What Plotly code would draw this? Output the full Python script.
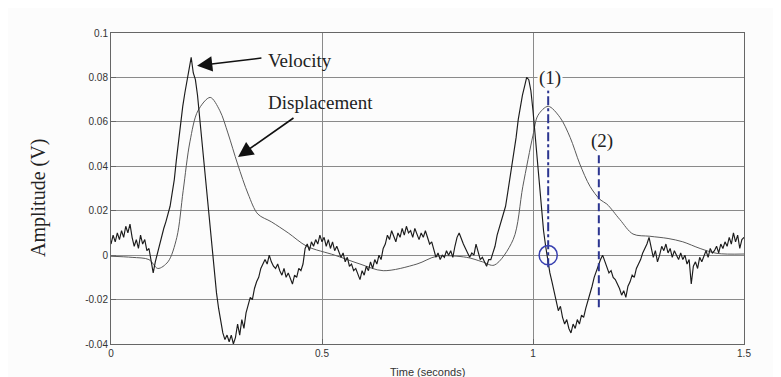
import plotly.graph_objects as go

# ---------------- data ----------------
# velocity sampled every 5 ms from 0 to 1.5 s
vel_step = 0.005
velocity = [
    0.005, 0.009, 0.006, 0.010, 0.007, 0.011, 0.008, 0.013, 0.010, 0.014,
    0.008, 0.004, 0.007, 0.003, 0.009, 0.005, 0.007, 0.002, 0.003, -0.002,
    -0.008, -0.003, 0.001, 0.005, 0.008, 0.012, 0.015, 0.018, 0.022, 0.028,
    0.034, 0.043, 0.052, 0.060, 0.067, 0.073, 0.079, 0.083, 0.089, 0.082,
    0.079, 0.072, 0.062, 0.052, 0.042, 0.031, 0.020, 0.010, 0.000, -0.008,
    -0.017, -0.024, -0.030, -0.035, -0.038, -0.036, -0.039, -0.036, -0.040, -0.037,
    -0.031, -0.036, -0.029, -0.033, -0.026, -0.022, -0.019, -0.020, -0.015, -0.012,
    -0.010, -0.006, -0.004, -0.002, -0.004, 0.000, -0.003, -0.005, -0.006, -0.004,
    -0.007, -0.009, -0.006, -0.010, -0.008, -0.011, -0.013, -0.009, -0.010, -0.006,
    -0.007, -0.004, 0.003, 0.005, 0.002, 0.006, 0.004, 0.007, 0.005, 0.009,
    0.006, 0.008, 0.004, 0.007, 0.003, 0.006, 0.002, 0.004, 0.001, -0.001,
    0.001, -0.003, -0.001, -0.005, -0.004, -0.007, -0.006, -0.009, -0.011, -0.007,
    -0.009, -0.005, -0.007, -0.003, -0.006, -0.002, -0.004, 0.000, -0.002, 0.003,
    0.005, 0.009, 0.007, 0.011, 0.008, 0.006, 0.010, 0.008, 0.012, 0.009,
    0.013, 0.010, 0.011, 0.008, 0.012, 0.009, 0.007, 0.010, 0.008, 0.011,
    0.008, 0.005, 0.006, 0.002, -0.001, 0.001, -0.002, 0.000, -0.001, 0.002,
    0.000, 0.002, -0.001, 0.004, 0.008, 0.010, 0.007, 0.005, 0.003, 0.001,
    -0.001, 0.001, 0.000, 0.005, 0.002, -0.002, -0.001, -0.003, -0.005, -0.002,
    -0.002, 0.001, 0.004, 0.009, 0.012, 0.015, 0.018, 0.022, 0.028, 0.034,
    0.039, 0.046, 0.053, 0.061, 0.067, 0.072, 0.076, 0.080, 0.079, 0.074,
    0.065, 0.054, 0.042, 0.031, 0.020, 0.011, 0.004, -0.003, -0.008, -0.012,
    -0.016, -0.020, -0.025, -0.023, -0.028, -0.031, -0.029, -0.033, -0.035, -0.031,
    -0.033, -0.029, -0.031, -0.027, -0.028, -0.024, -0.021, -0.018, -0.014, -0.010,
    -0.007, -0.004, -0.002, 0.000, -0.003, -0.005, -0.008, -0.007, -0.010, -0.011,
    -0.013, -0.015, -0.018, -0.016, -0.019, -0.014, -0.012, -0.009, -0.010, -0.006,
    -0.004, -0.002, 0.001, 0.003, 0.005, 0.008, 0.004, -0.001, 0.002, -0.003,
    0.000, 0.004, 0.002, 0.005, 0.001, 0.003, -0.001, 0.002, 0.000, -0.002,
    0.001, -0.002, 0.000, -0.004, -0.002, -0.013, -0.005, -0.003, -0.006, -0.001,
    -0.003, 0.000, 0.002, -0.001, 0.003, 0.001, 0.002, 0.004, 0.001, 0.005,
    0.003, 0.006, 0.004, 0.008, 0.005, 0.010, 0.006, 0.009, 0.003, 0.007,
    0.008,
]
vel_time = [round(i * vel_step, 3) for i in range(len(velocity))]

disp_time = [0.0, 0.05, 0.09, 0.111, 0.135, 0.156, 0.171, 0.187, 0.206, 0.235,
             0.258, 0.277, 0.30, 0.325, 0.348, 0.38, 0.42, 0.464, 0.53, 0.59,
             0.645, 0.725, 0.772, 0.843, 0.88, 0.908, 0.953, 0.976, 1.0, 1.012,
             1.036, 1.064, 1.088, 1.111, 1.135, 1.159, 1.175, 1.206, 1.237, 1.277,
             1.32, 1.355, 1.396, 1.436, 1.5]
displacement = [-0.0005, -0.001, -0.002, -0.006, -0.003, 0.008, 0.029, 0.051, 0.065, 0.071,
                0.065, 0.055, 0.041, 0.0275, 0.0185, 0.015, 0.010, 0.004, 0.0, -0.004,
                -0.007, -0.004, -0.0005, -0.001, -0.003, -0.0045, 0.007, 0.031, 0.054, 0.063,
                0.067, 0.062, 0.053, 0.041, 0.031, 0.025, 0.023, 0.016, 0.0095, 0.0085,
                0.0075, 0.006, 0.003, 0.0008, 0.0005]

x_ticks = [0, 0.5, 1, 1.5]
x_tick_labels = ["0", "0.5", "1", "1.5"]
y_ticks = [-0.04, -0.02, 0, 0.02, 0.04, 0.06, 0.08, 0.1]
y_tick_labels = ["-0.04", "-0.02", "0", "0.02", "0.04", "0.06", "0.08", "0.1"]

marker1_t = 1.036
marker2_t = 1.156

# ---------------- figure ----------------
SERIF = "Liberation Serif, Times New Roman, serif"
SANS = "Liberation Sans, Arial, sans-serif"
BLUE = "#2c3590"
GRID = "#8a8a8a"
BG = "#fcfcfc"

# the page body has an 8px margin, so the figure is sized to fit in what is left
W, H = 773, 369
L, R, T, B = 103, 37, 25, 33
pw, ph = W - L - R, H - T - B


def px_to_paper(px, py):
    """window pixel (incl. 8px body offset) -> paper coords"""
    return (px - 8 - L) / pw, 1 - (py - 8 - T) / ph


fig = go.Figure()
fig.add_trace(go.Scatter(x=disp_time, y=displacement, mode="lines",
                         line=dict(color="#5a5a5a", width=1, shape="spline", smoothing=0.9),
                         name="Displacement", showlegend=False))
fig.add_trace(go.Scatter(x=vel_time, y=velocity, mode="lines",
                         line=dict(color="#1c1c1c", width=1.15),
                         name="Velocity", showlegend=False))

shapes = [
    # white patch behind the labels (hides grid)
    dict(type="rect", xref="x", yref="y", x0=0.329, x1=0.713, y0=0.058, y1=0.0975,
         fillcolor=BG, line=dict(width=0), layer="below"),
    dict(type="line", xref="x", yref="y", x0=marker1_t, x1=marker1_t, y0=-0.0055, y1=0.075,
         line=dict(color=BLUE, width=2, dash="dashdot")),
    dict(type="line", xref="x", yref="y", x0=marker2_t, x1=marker2_t, y0=-0.0235, y1=0.0455,
         line=dict(color=BLUE, width=2, dash="8px,4px")),
    dict(type="circle", xref="x", yref="y", x0=marker1_t - 0.0215, x1=marker1_t + 0.0215,
         y0=-0.0043, y1=0.0043, line=dict(color="#3840b0", width=1.5)),
]

ytx, yty = px_to_paper(38, 198)
xtx, xty = px_to_paper(427, 372)

annotations = [
    dict(x=0.448, y=0.0875, text="Velocity", showarrow=False,
         font=dict(family=SERIF, size=19, color="#222")),
    dict(x=0.204, y=0.0853, ax=0.360, ay=0.0888, axref="x", ayref="y", xref="x", yref="y",
         text="", showarrow=True, arrowhead=2, arrowsize=1.9, arrowwidth=1.6, arrowcolor="#111"),
    dict(x=0.497, y=0.0685, text="Displacement", showarrow=False,
         font=dict(family=SERIF, size=19, color="#222")),
    dict(x=0.301, y=0.0442, ax=0.436, ay=0.0622, axref="x", ayref="y", xref="x", yref="y",
         text="", showarrow=True, arrowhead=2, arrowsize=1.9, arrowwidth=1.6, arrowcolor="#111"),
    dict(x=1.040, y=0.0798, text="(1)", showarrow=False, bgcolor=BG,
         font=dict(family=SERIF, size=19, color="#222")),
    dict(x=1.163, y=0.0514, text="(2)", showarrow=False,
         font=dict(family=SERIF, size=19, color="#222")),
    dict(x=ytx, y=yty, xref="paper", yref="paper", text="Amplitude (V)", showarrow=False,
         xanchor="center", yanchor="middle",
         textangle=-90, font=dict(family=SERIF, size=20, color="#222")),
    dict(x=xtx, y=xty, xref="paper", yref="paper", text="Time (seconds)", showarrow=False,
         xanchor="center", yanchor="middle",
         font=dict(family=SANS, size=11, color="#333")),
]

fig.update_layout(
    width=W, height=H,
    margin=dict(l=L, r=R, t=T, b=B, pad=0, autoexpand=False),
    paper_bgcolor=BG, plot_bgcolor=BG,
    shapes=shapes, annotations=annotations,
    xaxis=dict(range=[0, 1.5], tickvals=x_ticks, ticktext=x_tick_labels,
               showgrid=True, gridcolor=GRID, gridwidth=1, zeroline=False,
               showline=True, linecolor="#666", linewidth=1, mirror=True,
               ticks="inside", ticklen=5, tickcolor="#666", automargin=False,
               tickfont=dict(family=SANS, size=10, color="#333")),
    yaxis=dict(range=[-0.04, 0.1], tickvals=y_ticks, ticktext=y_tick_labels,
               showgrid=True, gridcolor=GRID, gridwidth=1, zeroline=False,
               showline=True, linecolor="#666", linewidth=1, mirror=True,
               ticks="inside", ticklen=5, tickcolor="#666", automargin=False,
               tickfont=dict(family=SANS, size=10, color="#333")),
)

fig.write_html("out.html")
